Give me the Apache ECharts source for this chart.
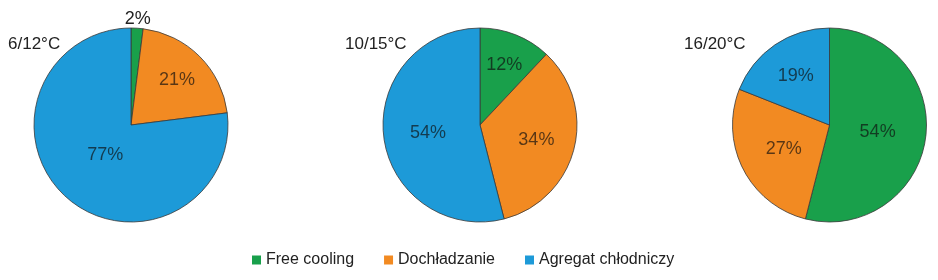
<!DOCTYPE html>
<html>
<head>
<meta charset="utf-8">
<script src="https://cdn.jsdelivr.net/npm/echarts@6/dist/echarts.min.js"></script>
<style>
  html, body { margin: 0; padding: 0; background: #fff; }
  #chart { width: 938px; height: 280px; }
</style>
</head>
<body>
<div id="chart"></div>
<script>
var categories = ['Free cooling', 'Dochładzanie', 'Agregat chłodniczy'];
var pieTitles = ['6/12°C', '10/15°C', '16/20°C'];
var values612 = [2, 21, 77];
var values1015 = [12, 34, 54];
var values1620 = [54, 27, 19];

var colors = ['#19a04b', '#f28a22', '#1d9ad8'];
var font = '"Liberation Sans Narrow", "Arial Narrow", "Liberation Sans", sans-serif';

// srodki kol i odleglosc etykiet (ulamek promienia)
var centers = [[131, 125], [480, 125], [829.5, 125]];
var radius = 97;
var labelDist = [[1.1, 0.67, 0.40], [0.68, 0.60, 0.54], [0.50, 0.53, 0.62]];

var allValues = [values612, values1015, values1620];

var chart = echarts.init(document.getElementById('chart'));

var series = allValues.map(function (vals, s) {
    var total = vals.reduce(function (a, b) { return a + b; }, 0);
    return {
        type: 'pie',
        name: pieTitles[s],
        center: centers[s],
        radius: radius,
        startAngle: 90,
        clockwise: true,
        animation: false,
        silent: true,
        itemStyle: { borderColor: '#3a3a3a', borderWidth: 0.8 },
        label: {
            show: true,
            position: 'inside',
            formatter: '{c}%',
            fontFamily: font,
            fontSize: 18,
            color: 'rgba(15,15,15,0.68)'
        },
        labelLine: { show: false },
        // etykiety na dwusiecznej wycinka, w odleglosci f * promien
        labelLayout: function (p) {
            var c = centers[s];
            var f = labelDist[s][p.dataIndex];
            var before = 0;
            for (var i = 0; i < p.dataIndex; i++) before += vals[i];
            var a = (before + vals[p.dataIndex] / 2) / total * 2 * Math.PI;
            return {
                x: c[0] + Math.sin(a) * f * radius,
                y: c[1] - Math.cos(a) * f * radius + 1,
                align: 'center',
                verticalAlign: 'middle'
            };
        },
        data: vals.map(function (v, i) {
            var item = { name: categories[i], value: v };
            if (s === 0 && i === 0) item.label = { color: '#222' };
            return item;
        })
    };
});

var option = {
    color: colors,
    title: pieTitles.map(function (t, i) {
        return {
            text: t,
            left: [8, 345, 684][i],
            top: 36,
            padding: 0,
            textStyle: { fontFamily: font, fontSize: 17, fontWeight: 'normal', color: '#222' }
        };
    }),
    legend: {
        data: categories,
        bottom: 12,
        left: 252,
        padding: 0,
        icon: 'rect',
        itemWidth: 9,
        itemHeight: 9,
        itemGap: 30,
        itemStyle: { borderWidth: 0 },
        textStyle: { fontFamily: font, fontSize: 16, color: '#222' }
    },
    series: series
};

chart.setOption(option);
</script>
</body>
</html>
